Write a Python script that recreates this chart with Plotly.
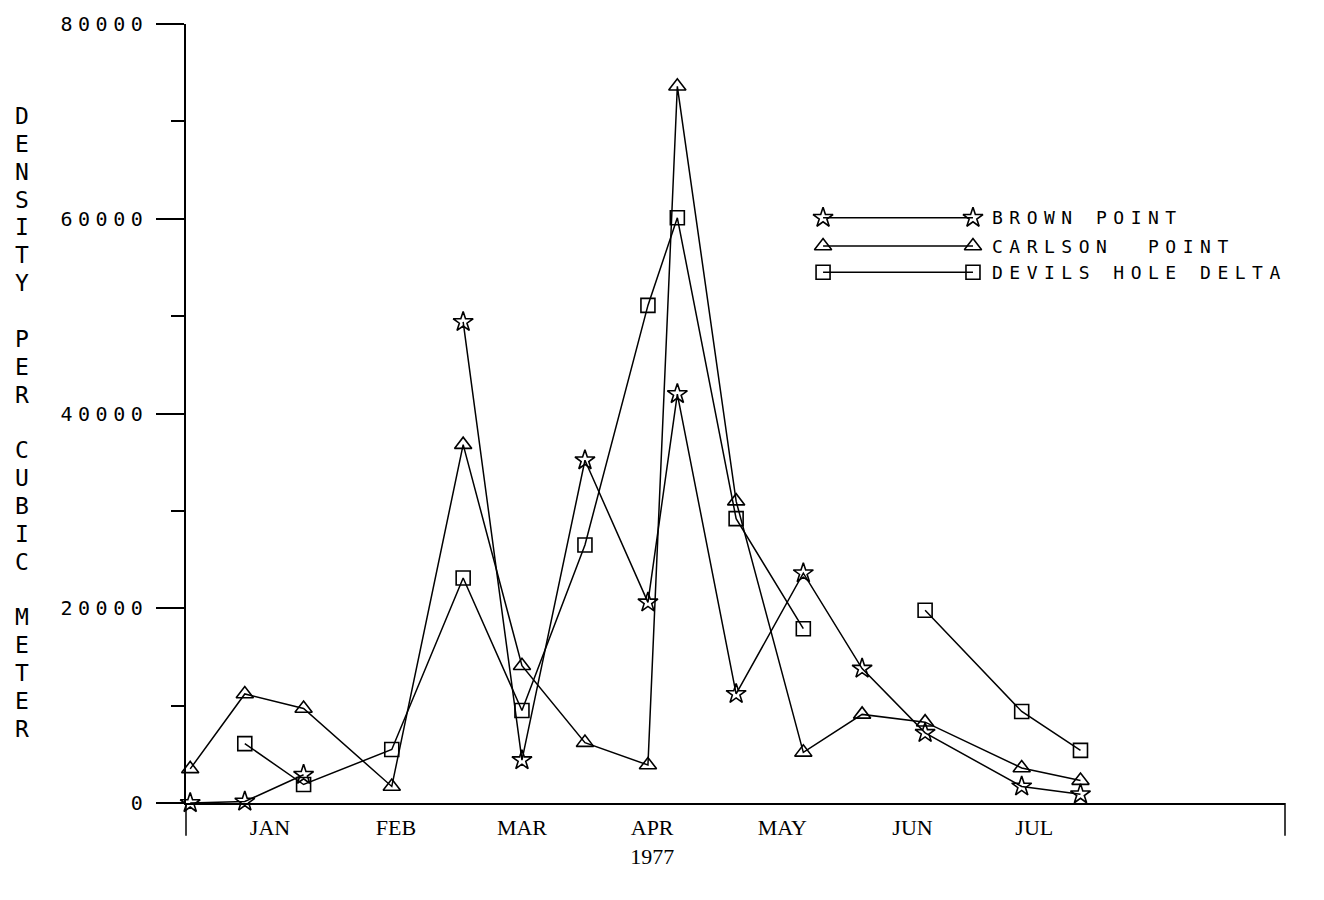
import plotly.graph_objects as go

# Sampling dates, as days from 1 January 1977
days = [-4, 9, 23, 44, 61, 75, 90, 105, 112, 126, 142, 156, 171, 194, 208]

# Density per cubic meter at each station (None = no sample)
brown_point = [0, 150, 2900, None, 49400, 4400, 35200, 20600, 42000, 11200,
               23600, 13800, 7200, 1700, 900]
carlson_point = [3500, 11200, 9700, 1700, 36800, 14100, 6200, 3900, 73600, 31000,
                 5200, 9100, 8300, 3600, 2300]
devils_hole_delta = [None, 6100, 1900, 5500, 23100, 9500, 26500, 51100, 60100, 29200,
                     17900, None, 19800, 9400, 5400]

series_names = ["BROWN POINT", "CARLSON  POINT", "DEVILS HOLE DELTA"]
series_symbols = ["star-open", "triangle-up-open", "square-open"]
series_sizes = [15, 15, 14]

month_days = [15, 45, 75, 106, 137, 168, 197]
month_labels = ["JAN", "FEB", "MAR", "APR<br>1977", "MAY", "JUN", "JUL"]

y_ticks = [0, 20000, 40000, 60000, 80000]
y_title = "DENSITY PER CUBIC METER"

PLOT_FONT = "DejaVu Sans Mono"
SERIF_FONT = "Liberation Serif"


def spaced(text, gap):
    return f'<span style="letter-spacing:{gap}px">{text}</span>'


fig = go.Figure()

for name, values, sym, size in zip(series_names,
                                   [brown_point, carlson_point, devils_hole_delta],
                                   series_symbols, series_sizes):
    fig.add_trace(go.Scatter(
        x=days, y=values, mode="lines+markers", name=name,
        line=dict(color="black", width=1.5),
        marker=dict(symbol=sym, size=size, color="black", line=dict(width=1.6)),
        connectgaps=False, cliponaxis=False, showlegend=False,
    ))

# Hand-drawn key: a line between two markers, label to the right
key_x = [146.7, 182.4]
key_y = [60100, 57200, 54500]
for name, sym, size, ky in zip(series_names, series_symbols, series_sizes, key_y):
    fig.add_trace(go.Scatter(
        x=key_x, y=[ky, ky], mode="lines+markers",
        line=dict(color="black", width=1.5),
        marker=dict(symbol=sym, size=size, color="black", line=dict(width=1.6)),
        cliponaxis=False, showlegend=False, hoverinfo="skip",
    ))
    fig.add_annotation(
        x=186.4, y=ky, xref="x", yref="y", text=spaced(name, 6.5),
        showarrow=False, xanchor="left", yanchor="middle",
        font=dict(family=PLOT_FONT, size=18, color="black"),
    )

# Vertical axis title, one letter per line
PLOT_TOP, PLOT_BOTTOM = 20, 803
first_center, step = 112.5, 28.0
for i, ch in enumerate(y_title):
    if ch == " ":
        continue
    ypx = first_center + i * step
    fig.add_annotation(
        x=(22 - 186) / 1099, y=(PLOT_BOTTOM - ypx) / (PLOT_BOTTOM - PLOT_TOP),
        xref="paper", yref="paper", text=ch, showarrow=False,
        xanchor="center", yanchor="middle",
        font=dict(family=PLOT_FONT, size=23, color="black"),
    )

# Axis extensions below the zero line
ext = -33 / (PLOT_BOTTOM - PLOT_TOP)
fig.add_shape(type="line", xref="paper", yref="paper", x0=0, x1=0, y0=0, y1=ext,
              line=dict(color="black", width=1.5))
fig.add_shape(type="line", xref="paper", yref="paper", x0=1, x1=1, y0=0, y1=ext,
              line=dict(color="black", width=1.5))

fig.update_xaxes(
    range=[-5, 256.7], showgrid=False, zeroline=False,
    showline=True, linecolor="black", linewidth=1.5,
    tickmode="array", tickvals=month_days, ticktext=month_labels,
    ticks="", tickfont=dict(family=SERIF_FONT, size=22, color="black"),
    ticklabelstandoff=4,
)
fig.update_yaxes(
    range=[0, 80000], showgrid=False, zeroline=False,
    showline=True, linecolor="black", linewidth=1.5,
    tickmode="array", tickvals=y_ticks,
    ticktext=[spaced(str(v), 5.5) for v in y_ticks],
    ticks="outside", ticklen=28, tickwidth=1.5, tickcolor="black",
    minor=dict(dtick=10000, ticks="outside", ticklen=13, tickwidth=1.5, tickcolor="black"),
    tickfont=dict(family=PLOT_FONT, size=20, color="black"),
    ticklabelstandoff=4,
)

fig.update_layout(
    width=1324, height=900,
    margin=dict(l=186, r=39, t=PLOT_TOP, b=900 - PLOT_BOTTOM),
    paper_bgcolor="white", plot_bgcolor="white",
    showlegend=False,
)

fig.write_html("out.html")
